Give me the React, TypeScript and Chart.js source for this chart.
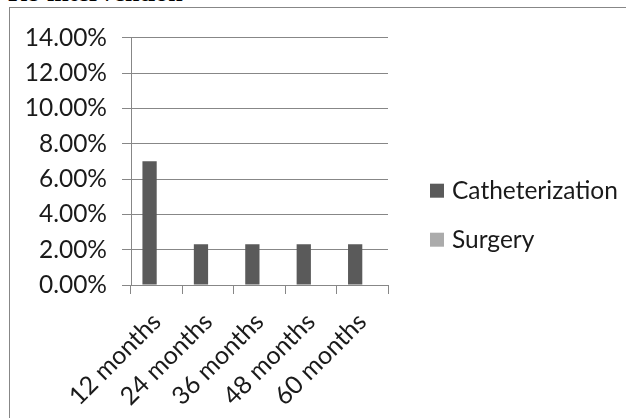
import React, { useEffect, useRef } from 'react';
import { Chart, registerables } from 'chart.js';

Chart.register(...registerables);

const categories = ['12 months', '24 months', '36 months', '48 months', '60 months'];
const catheterization = [7.0, 2.3, 2.3, 2.3, 2.3];
const surgery = [0, 0, 0, 0, 0];
const seriesNames = ['Catheterization', 'Surgery'];
const seriesColors = ['#5a5a5a', '#ababab'];
const yMin = 0;
const yMax = 14;
const yStep = 2;
const titleText = 'Re-intervention';

const FONT = 'Lato, "Open Sans", sans-serif';
const TEXT_COLOR = '#1a1a1a';
const LINE_COLOR = '#878787';

export default function App() {
  const ref = useRef<HTMLCanvasElement>(null);

  useEffect(() => {
    const canvas = ref.current;
    if (!canvas) return;

    const sideLegend = {
      id: 'sideLegend',
      afterDraw(chart: any) {
        const { ctx, chartArea } = chart;
        ctx.save();
        ctx.font = `24.5px ${FONT}`;
        ctx.textBaseline = 'middle';
        ctx.textAlign = 'left';
        chart.data.datasets.forEach((ds: any, i: number) => {
          const x = chartArea.right + 42;
          const y = chartArea.top + 153 + i * 49;
          ctx.fillStyle = ds.backgroundColor;
          ctx.fillRect(x, y - 7, 14, 14);
          ctx.fillStyle = TEXT_COLOR;
          ctx.fillText(ds.label, x + 22, y);
        });
        ctx.restore();
      },
    };

    const chart = new Chart(canvas, {
      type: 'bar',
      data: {
        labels: categories,
        datasets: [
          { label: seriesNames[0], data: catheterization, backgroundColor: seriesColors[0] },
          { label: seriesNames[1], data: surgery, backgroundColor: seriesColors[1] },
        ],
      },
      options: {
        responsive: false,
        animation: false,
        layout: { padding: { left: 0, right: 238, top: 28, bottom: 0 } },
        datasets: {
          bar: { categoryPercentage: 0.555, barPercentage: 1.0 },
        },
        plugins: {
          legend: { display: false },
          tooltip: { enabled: false },
          title: { display: false },
        },
        scales: {
          x: {
            grid: {
              display: true,
              drawOnChartArea: false,
              drawTicks: true,
              tickLength: 9,
              color: LINE_COLOR,
              offset: true,
            },
            border: { display: true, color: LINE_COLOR, width: 1 },
            ticks: {
              minRotation: 45,
              maxRotation: 45,
              autoSkip: false,
              padding: 13,
              color: TEXT_COLOR,
              font: { family: FONT, size: 25 },
            },
            afterFit(scale: any) {
              scale.height = 133;
            },
          },
          y: {
            min: yMin,
            max: yMax,
            grid: {
              color: LINE_COLOR,
              drawTicks: true,
              tickLength: 9,
            },
            border: { display: true, color: LINE_COLOR, width: 1 },
            ticks: {
              stepSize: yStep,
              padding: 15,
              color: TEXT_COLOR,
              font: { family: FONT, size: 24.5 },
              callback: (v: any) => Number(v).toFixed(2) + '%',
            },
            afterFit(scale: any) {
              scale.width = 121;
            },
          },
        },
      },
      plugins: [sideLegend],
    });

    return () => chart.destroy();
  }, []);

  return (
    <div style={{ position: 'absolute', left: 0, top: 0, width: 626, height: 418, overflow: 'hidden', background: '#fff' }}>
      <div
        style={{
          position: 'absolute',
          left: 8,
          top: -20,
          fontFamily: '"Liberation Serif", "Times New Roman", serif',
          fontWeight: 'bold',
          fontSize: 26,
          lineHeight: '26px',
          whiteSpace: 'nowrap',
          color: '#000',
        }}
      >
        {titleText}
      </div>
      <div
        style={{
          position: 'absolute',
          left: 9,
          top: 7,
          width: 700,
          height: 500,
          borderLeft: `1px solid ${LINE_COLOR}`,
          borderTop: `1px solid ${LINE_COLOR}`,
        }}
      />
      <canvas ref={ref} width={616} height={410} style={{ position: 'absolute', left: 10, top: 8, display: 'block' }} />
    </div>
  );
}
